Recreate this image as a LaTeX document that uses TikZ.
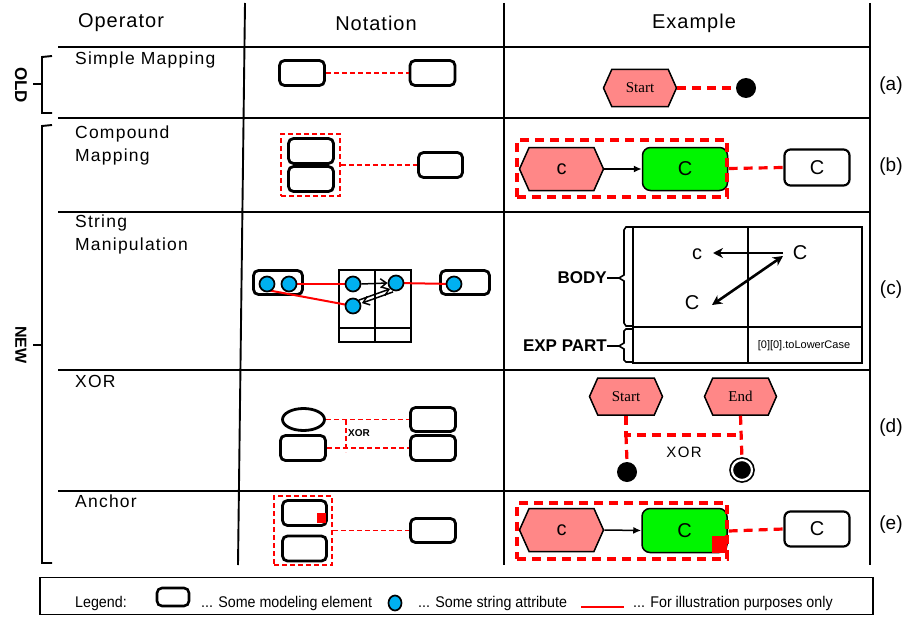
\documentclass[tikz,border=0pt]{standalone}
\usepackage{fontspec}
\setmainfont{Liberation Sans}
\newfontfamily\hdrfont[LetterSpace=5]{Liberation Sans}
\newfontfamily\lblfont[LetterSpace=7]{Liberation Sans}
\newfontfamily\xorfont[LetterSpace=10]{Liberation Sans}
\newfontfamily\serf{Liberation Serif}
\newfontfamily\narr[FakeStretch=0.92]{Liberation Sans}
\usetikzlibrary{shapes.symbols,shapes.geometric,arrows.meta}
\definecolor{hexpink}{RGB}{255,135,135}
\definecolor{cgreen}{RGB}{0,245,0}
\definecolor{cattr}{RGB}{0,176,240}
\begin{document}
\begin{tikzpicture}[x=1pt,y=-1pt,
  grid/.style={line width=1.9pt, black},
  brk/.style={line width=1.9pt, black},
  mbox/.style={draw=black, line width=2.8pt, rounded corners=5pt, fill=white, inner sep=0pt},
  hexa/.style={signal, signal to=west and east, signal pointer angle=132, draw=black, line width=1.5pt, fill=hexpink, inner sep=0pt},
  gbox/.style={draw=black, line width=1.5pt, rounded corners=8pt, fill=cgreen, inner sep=0pt},
  wbox/.style={draw=black, line width=2.2pt, rounded corners=6pt, fill=white, inner sep=0pt},
  rthin/.style={red, line width=1.9pt, dash pattern=on 5pt off 3pt},
  rthick/.style={red, line width=3.2pt, dash pattern=on 9pt off 6pt},
  rgrp/.style={draw=red, line width=1.9pt, dash pattern=on 5pt off 3pt, inner sep=0pt},
  rgrpk/.style={draw=red, line width=3.2pt, dash pattern=on 9pt off 6pt, inner sep=0pt},
  attr/.style={circle, draw=black, line width=1.7pt, fill=cattr, minimum size=15pt, inner sep=0pt},
  dot/.style={circle, fill=black, inner sep=0pt, minimum size=20pt},
  lbl/.style={font=\fontsize{17.5}{20}\lblfont, anchor=base west, inner sep=0pt},
  hdr/.style={font=\fontsize{20}{24}\hdrfont, inner sep=0pt},
  tag/.style={font=\fontsize{19}{22}\selectfont, inner sep=0pt},
  big/.style={font=\fontsize{20}{24}\selectfont, inner sep=0pt},
  hxt/.style={font=\fontsize{15}{18}\serf},
  bld/.style={font=\fontsize{17}{20}\selectfont\bfseries, inner sep=0pt},
  leg/.style={font=\fontsize{15.5}{17}\narr, anchor=base west, inner sep=0pt},
  blk/.style={line width=1.5pt, black},
]
\useasboundingbox (0,0) rectangle (908,618);

% ---------- grid ----------
\draw[grid] (58,47) -- (870,47);
\draw[grid] (58,118) -- (870,118);
\draw[grid] (58,212) -- (870,212);
\draw[grid] (58,370) -- (870,370);
\draw[grid] (58,491) -- (870,491);
\draw[grid] (245,3) -- (238,565);
\draw[grid] (504,3) -- (504,565);
\draw[grid] (870,3) -- (870,565);

% ---------- headers ----------
\node[hdr] (hop) at (121,23) {Operator};
\node[hdr] (hno) at (376,23) {Notation};
\node[hdr] (hex) at (694,23) {Example};

% ---------- left brackets ----------
\draw[brk] (52,56) -- (42,57) -- (42,113) -- (52,113);
\draw[brk] (42,84) -- (33,84);
\node[bld, rotate=-90] (old) at (21,85) {OLD};
\draw[brk] (52,125) -- (42,126) -- (42,563) -- (52,563);
\draw[brk] (42,345) -- (33,345);
\node[bld, font=\fontsize{16}{19}\selectfont\bfseries, rotate=-90] (new) at (21,345) {NEW};

% ---------- row labels ----------
\node[lbl] (l1) at (75,65) {Simple Mapping};
\node[lbl] (l2a) at (75,138) {Compound};
\node[lbl] (l2b) at (75,161) {Mapping};
\node[lbl] (l3a) at (75,227) {String};
\node[lbl] (l3b) at (75,250) {Manipulation};
\node[lbl] (l4) at (75,387) {XOR};
\node[lbl] (l5) at (75,507) {Anchor};

% ---------- tags ----------
\node[tag] (ta) at (891,86) {(a)};
\node[tag] (tb) at (891,167) {(b)};
\node[tag] (tc) at (891,290) {(c)};
\node[tag] (td) at (891,428) {(d)};
\node[tag] (te) at (891,525) {(e)};

% ---------- row (a) ----------
\node[mbox, minimum width=45pt, minimum height=25pt] (a1) at (302,73) {};
\node[mbox, minimum width=45pt, minimum height=25pt] (a2) at (432.5,73) {};
\draw[rthin] (a1.east) -- (a2.west);
\node[hexa, minimum width=73pt, minimum height=37pt, hxt] (as) at (640,88) {Start};
\node[dot] (ac) at (746,88) {};
\draw[rthick] (as.east) -- (ac.west);

% ---------- row (b) ----------
\node[mbox, minimum width=45pt, minimum height=25pt] (b1) at (311,151) {};
\node[mbox, minimum width=45pt, minimum height=25pt] (b2) at (311,179) {};
\node[rgrp, minimum width=59pt, minimum height=62pt] (bg) at (310.5,165) {};
\node[mbox, minimum width=44pt, minimum height=25pt] (b3) at (440.5,165) {};
\draw[rthin] (bg.east) -- (b3.west);

\node[hexa, minimum width=84pt, minimum height=43pt, big] (bh) at (561.5,169) {c};
\node[gbox, minimum width=85pt, minimum height=43pt, big] (bG) at (685,169) {C};
\draw[blk, -{Latex[length=8pt,width=7pt]}] (bh.east) -- (bG.west);
\node[rgrpk, minimum width=210pt, minimum height=57pt] (bgr) at (622,168.5) {};
\node[wbox, minimum width=65pt, minimum height=36pt, big] (bC) at (817,167.5) {C};
\draw[rthick] (bgr.east) -- (bC.west);

% ---------- row (c) notation ----------
\node[mbox, minimum width=49pt, minimum height=24pt] (c1) at (278,282.5) {};
\node[draw=black, line width=1.6pt, minimum width=72pt, minimum height=72pt, inner sep=0pt] (cg) at (375,306) {};
\draw[line width=1.6pt] (cg.north) -- (cg.south);
\draw[line width=1.6pt] (339,328) -- (411,328);
\node[mbox, minimum width=49pt, minimum height=24pt] (c3) at (465,282.5) {};
\coordinate (c1ap) at (267,284);
\coordinate (c1bp) at (289,284);
\coordinate (cgap) at (353,284);
\coordinate (cgbp) at (396,283);
\coordinate (cgcp) at (353,306);
\coordinate (c3ap) at (454,284);
\draw[red, line width=2pt] (c1bp) -- (cgap);
\draw[red, line width=2pt] (c1ap) ++(0,6) -- (cgcp);
\draw[red, line width=2pt] (cgbp) -- (c3ap);
\node[attr] (c1a) at (c1ap) {};
\node[attr] (c1b) at (c1bp) {};
\node[attr] (cga) at (cgap) {};
\node[attr] (cgb) at (cgbp) {};
\node[attr] (cgc) at (cgcp) {};
\node[attr] (c3a) at (c3ap) {};
\draw[blk, -{Straight Barb[length=6pt,width=9pt]}] (cga.east) -- (cgb.west);
\draw[blk, -{Straight Barb[length=6pt,width=9pt]}] (cgc.north east) -- (cgb.south west);
\draw[blk, -{Straight Barb[length=6pt,width=9pt]}] ([shift={(3,3)}]cgb.south west) -- ([shift={(3,3)}]cgc.north east);

% ---------- row (c) example ----------
\node[draw=black, line width=1.6pt, minimum width=229pt, minimum height=136pt, inner sep=0pt] (ct) at (747.5,295) {};
\draw[line width=1.6pt] (748,227) -- (748,363);
\draw[line width=1.6pt] (633,327) -- (862,327);
\node[big] (tcl) at (697,254) {c};
\node[big] (tC1) at (800,253) {C};
\node[big] (tC2) at (692,303) {C};
\coordinate (hs) at (783,253);
\coordinate (he) at (713,253);
\coordinate (ds1) at (712,305);
\coordinate (ds2) at (783,256);
\draw[line width=2.6pt, -{Stealth[length=10pt,width=10pt]}] (hs) -- (he);
\draw[line width=2.6pt, {Stealth[length=10pt,width=10pt]}-{Stealth[length=10pt,width=10pt]}] (ds1) -- (ds2);
\node[font=\fontsize{11}{13}\selectfont, inner sep=0pt] (tlc) at (804,346) {[0][0].toLowerCase};
\draw[line width=1.6pt] (633,227) -- (626,227) -- (624,230) -- (624,275) -- (619,278) -- (624,281) -- (624,323) -- (626,326) -- (633,326);
\draw[line width=1.6pt] (633,329) -- (626,329) -- (624,331) -- (624,343) -- (619,346) -- (624,349) -- (624,360) -- (626,362) -- (633,362);
\node[bld, anchor=east] (body) at (607,278) {BODY};
\node[bld, anchor=east] (exp) at (607,346) {EXP PART};
\draw[line width=1.9pt] (body.east) -- (619,278);
\draw[line width=1.9pt] (exp.east) -- (619,346);

% ---------- row (d) ----------
\node[ellipse, draw=black, line width=2.8pt, minimum width=42pt, minimum height=22pt, inner sep=0pt] (d1) at (303.5,419.5) {};
\node[mbox, minimum width=45pt, minimum height=25pt] (d2) at (303,448) {};
\node[mbox, minimum width=45pt, minimum height=24pt] (d3) at (433,419.5) {};
\node[mbox, minimum width=45pt, minimum height=25pt] (d4) at (433,448) {};
\draw[rthin] (d1.east) -- (d3.west);
\draw[rthin] (d2.east) -- (d4.west);
\coordinate (xt) at (346,420);
\coordinate (xb) at (346,452);
\draw[rthin] (xt) -- (xb);
\node[font=\fontsize{10}{12}\selectfont\bfseries, inner sep=0pt] (dx) at (359,433) {XOR};

\node[hexa, minimum width=73pt, minimum height=37pt, hxt] (ds) at (626,396.5) {Start};
\node[hexa, minimum width=72pt, minimum height=37pt, hxt] (de) at (740.5,396.5) {End};
\node[dot] (dc1) at (627,472) {};
\node[circle, fill=black, draw=black, double=white, double distance=2.2pt, line width=1.7pt, minimum size=20pt, inner sep=0pt] (dc2) at (742,470) {};
\coordinate (j1) at (626,435);
\coordinate (j2) at (741,435);
\draw[rthick] (ds.south) -- (j1) -- (j2);
\draw[rthick] (j1) -- (dc1.north);
\draw[rthick] (de.south) -- (dc2.north);
\node[font=\fontsize{15}{18}\xorfont, inner sep=0pt] (dx2) at (684,452) {XOR};

% ---------- row (e) ----------
\node[mbox, minimum width=44pt, minimum height=25pt] (e1) at (304.5,513) {};
\node[mbox, minimum width=44pt, minimum height=25pt] (e2) at (304.5,548.5) {};
\node[fill=red, minimum width=9pt, minimum height=10pt, inner sep=0pt] (ea) at (321.5,518) {};
\node[rgrp, minimum width=58pt, minimum height=69pt] (eg) at (303,530.5) {};
\node[mbox, minimum width=45pt, minimum height=24pt] (e3) at (433,530.5) {};
\draw[rthin] (eg.east) -- (e3.west);

\node[hexa, minimum width=84pt, minimum height=43pt, big] (eh) at (561.5,530) {c};
\node[gbox, minimum width=85pt, minimum height=44pt, big] (eG) at (684.5,530.5) {C};
\node[fill=red, minimum width=15pt, minimum height=17pt, inner sep=0pt] (eA) at (719.5,544.5) {};
\draw[blk, -{Latex[length=8pt,width=7pt]}] (eh.east) -- (eG.west);
\node[rgrpk, minimum width=210pt, minimum height=56pt] (egr) at (622,531) {};
\node[wbox, minimum width=65pt, minimum height=35pt, big] (eC) at (817,529) {C};
\draw[rthick] (egr.east) -- (eC.west);

% ---------- legend ----------
\node[draw=black, line width=1.6pt, minimum width=833pt, minimum height=37pt, inner sep=0pt] (legbox) at (456.5,596) {};
\node[leg] (lg0) at (75,607) {Legend:};
\node[mbox, line width=2.6pt, minimum width=32pt, minimum height=18pt] (lgb) at (173,597) {};
\node[leg] (lg1) at (201,607) {... Some modeling element};
\node[ellipse, draw=black, line width=1.7pt, fill=cattr, minimum width=13pt, minimum height=15pt, inner sep=0pt] (lgc) at (395,603) {};
\node[leg] (lg2) at (418,607) {... Some string attribute};
\coordinate (lr1) at (581,607);
\coordinate (lr2) at (624,607);
\draw[red, line width=2pt] (lr1) -- (lr2);
\node[leg] (lg3) at (633,607) {... For illustration purposes only};
\end{tikzpicture}
\end{document}
